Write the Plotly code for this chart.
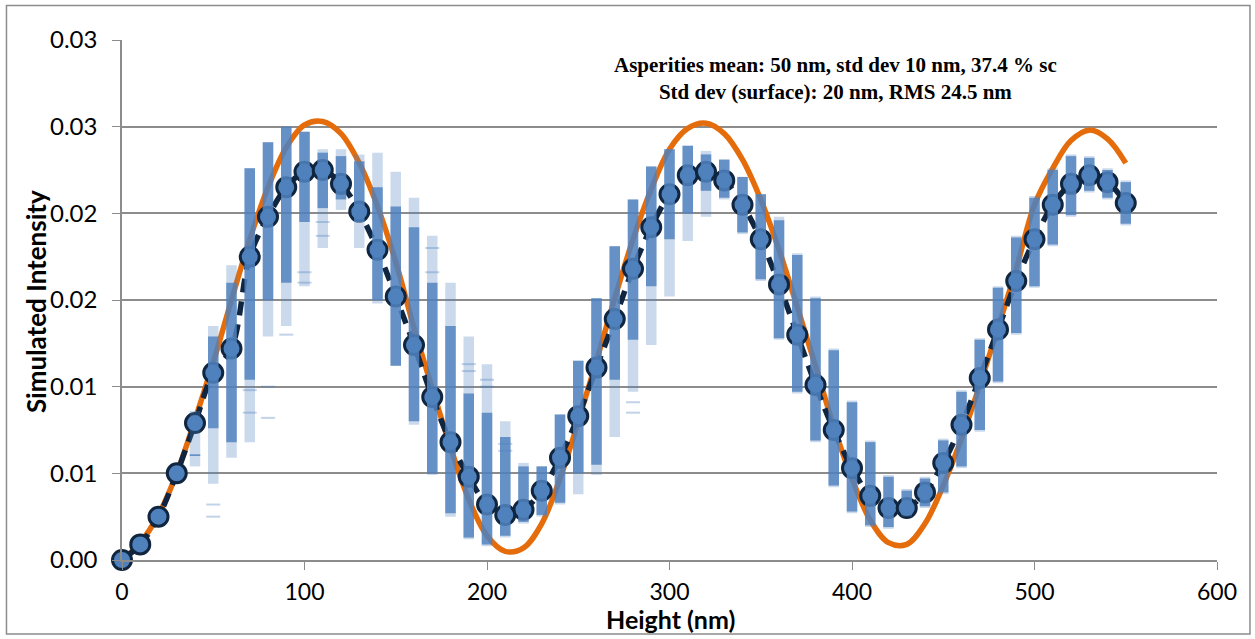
import plotly.graph_objects as go

# ---------------- data ----------------
heights = list(range(0, 560, 10))

mean_intensity = [
    0.0000, 0.0009, 0.0025, 0.0050, 0.0079, 0.0108, 0.0122, 0.0175, 0.0198, 0.0215,
    0.0224, 0.0225, 0.0217, 0.0201, 0.0179, 0.0152, 0.0124, 0.0094, 0.0068, 0.0048,
    0.0032, 0.0026, 0.0029, 0.0040, 0.0059, 0.0083, 0.0111, 0.0139, 0.0168, 0.0192,
    0.0211, 0.0222, 0.0224, 0.0219, 0.0205, 0.0185, 0.0159, 0.0130, 0.0101, 0.0075,
    0.0053, 0.0037, 0.0030, 0.0030, 0.0039, 0.0056, 0.0078, 0.0105, 0.0133, 0.0161,
    0.0185, 0.0205, 0.0217, 0.0222, 0.0218, 0.0206,
]

model_intensity = [
    0.0000, 0.0010, 0.0026, 0.0050, 0.0081, 0.0114, 0.0150, 0.0185, 0.0215, 0.0238,
    0.0251, 0.0253, 0.0246, 0.0229, 0.0204, 0.0172, 0.0134, 0.0099, 0.0065, 0.0035,
    0.0014, 0.0005, 0.0007, 0.0021, 0.0047, 0.0080, 0.0115, 0.0151, 0.0185, 0.0214,
    0.0237, 0.0249, 0.0252, 0.0246, 0.0231, 0.0208, 0.0179, 0.0146, 0.0112, 0.0077,
    0.0047, 0.0023, 0.0010, 0.0009, 0.0021, 0.0043, 0.0070, 0.0101, 0.0134, 0.0168,
    0.0205, 0.0226, 0.0242, 0.0248, 0.0243, 0.0229,
]

# spread of the individual simulations (from 40 nm on)
spread_heights = list(range(40, 560, 10))
core_low = [
    0.0060, 0.0076, 0.0068, 0.0104, 0.0150, 0.0160, 0.0195, 0.0203, 0.0208, 0.0195,
    0.0150, 0.0112, 0.0080, 0.0050, 0.0027, 0.0013, 0.0009, 0.0014, 0.0022, 0.0026,
    0.0033, 0.0050, 0.0055, 0.0104, 0.0127, 0.0158, 0.0185, 0.0200, 0.0213, 0.0209,
    0.0189, 0.0162, 0.0128, 0.0097, 0.0069, 0.0043, 0.0028, 0.0020, 0.0019, 0.0026,
    0.0031, 0.0039, 0.0054, 0.0075, 0.0103, 0.0131, 0.0158, 0.0182, 0.0199, 0.0213,
    0.0209, 0.0194,
]
core_high = [
    0.0061, 0.0129, 0.0160, 0.0226, 0.0241, 0.0250, 0.0247, 0.0235, 0.0233, 0.0230,
    0.0215, 0.0204, 0.0192, 0.0160, 0.0135, 0.0096, 0.0085, 0.0071, 0.0054, 0.0054,
    0.0084, 0.0115, 0.0151, 0.0181, 0.0208, 0.0227, 0.0237, 0.0239, 0.0234, 0.0231,
    0.0221, 0.0211, 0.0196, 0.0176, 0.0151, 0.0121, 0.0091, 0.0068, 0.0048, 0.0040,
    0.0047, 0.0069, 0.0097, 0.0127, 0.0157, 0.0186, 0.0209, 0.0225, 0.0233, 0.0232,
    0.0225, 0.0218,
]
spread_low = [
    0.0054, 0.0044, 0.0059, 0.0068, 0.0129, 0.0135, 0.0158, 0.0180, 0.0202, 0.0180,
    0.0148, 0.0112, 0.0078, 0.0049, 0.0025, 0.0012, 0.0008, 0.0013, 0.0021, 0.0025,
    0.0032, 0.0038, 0.0049, 0.0071, 0.0097, 0.0124, 0.0152, 0.0184, 0.0198, 0.0208,
    0.0188, 0.0161, 0.0127, 0.0096, 0.0068, 0.0042, 0.0027, 0.0019, 0.0018, 0.0025,
    0.0030, 0.0038, 0.0053, 0.0074, 0.0102, 0.0130, 0.0157, 0.0181, 0.0198, 0.0212,
    0.0208, 0.0193,
]
spread_high = [
    0.0086, 0.0135, 0.0170, 0.0226, 0.0241, 0.0250, 0.0247, 0.0237, 0.0237, 0.0234,
    0.0235, 0.0224, 0.0209, 0.0187, 0.0160, 0.0129, 0.0113, 0.0080, 0.0056, 0.0054,
    0.0084, 0.0115, 0.0151, 0.0181, 0.0208, 0.0227, 0.0237, 0.0239, 0.0236, 0.0231,
    0.0221, 0.0211, 0.0198, 0.0177, 0.0152, 0.0122, 0.0092, 0.0069, 0.0049, 0.0041,
    0.0048, 0.0070, 0.0098, 0.0128, 0.0158, 0.0187, 0.0210, 0.0226, 0.0234, 0.0233,
    0.0226, 0.0219,
]

# isolated simulation results outside the dense spread
outlier_heights = [50, 50, 70, 70, 80, 80, 90, 100, 100, 110, 110, 170, 170, 190, 190, 200, 200, 210, 210, 280, 280]
outlier_values = [0.0032, 0.0025, 0.0085, 0.0098, 0.0100, 0.0082, 0.0130, 0.0166, 0.0160, 0.0187, 0.0195,
                  0.0166, 0.0180, 0.0113, 0.0109, 0.0104, 0.0100, 0.0067, 0.0063, 0.0091, 0.0085]

y_ticks = [0, 0.005, 0.010, 0.015, 0.020, 0.025, 0.030]
y_tick_labels = ["0.00", "0.01", "0.01", "0.02", "0.02", "0.03", "0.03"]
x_ticks = [0, 100, 200, 300, 400, 500, 600]

title_lines = ["Asperities mean: 50 nm, std dev 10 nm, 37.4 % sc",
               "Std dev (surface): 20 nm, RMS 24.5 nm"]
x_title = "Height (nm)"
y_title = "Simulated Intensity"

# ---------------- figure ----------------
BLUE = "79,129,189"
NAVY = "#10253F"
ORANGE = "#E46C0A"
GRID = "#8C8C8C"
FONT = "Lato, Calibri, Carlito, sans-serif"


def segments(xs, lo, hi):
    sx, sy = [], []
    for x, a, b in zip(xs, lo, hi):
        sx += [x, x, None]
        sy += [a, b, None]
    return sx, sy


fig = go.Figure()

fig.add_trace(go.Scatter(
    x=heights, y=model_intensity, mode="lines",
    line=dict(color=ORANGE, width=5.5, shape="spline"),
    hoverinfo="skip", showlegend=False))

fig.add_trace(go.Scatter(
    x=heights, y=mean_intensity, mode="lines+markers", cliponaxis=False,
    line=dict(color=NAVY, width=5.5, dash="14px,9px", shape="spline"),
    marker=dict(size=19, color=f"rgb({BLUE})", line=dict(color=NAVY, width=3)),
    showlegend=False))

sx, sy = segments(spread_heights, spread_low, spread_high)
fig.add_trace(go.Scatter(
    x=sx, y=sy, mode="lines", line=dict(color=f"rgba({BLUE},0.30)", width=10.5),
    hoverinfo="skip", showlegend=False))

cx, cy = segments(spread_heights, core_low, core_high)
fig.add_trace(go.Scatter(
    x=cx, y=cy, mode="lines", line=dict(color=f"rgba({BLUE},0.82)", width=10.5),
    hoverinfo="skip", showlegend=False))

fig.add_trace(go.Scatter(
    x=outlier_heights, y=outlier_values, mode="markers",
    marker=dict(symbol="line-ew", size=10, line=dict(color=f"rgba({BLUE},0.35)", width=2)),
    hoverinfo="skip", showlegend=False))

fig.add_annotation(
    xref="paper", yref="paper", x=0.652, y=0.925, xanchor="center", yanchor="middle",
    text="<b>" + title_lines[0] + "</b><br><b>" + title_lines[1] + "</b>",
    showarrow=False, align="center",
    font=dict(family="Liberation Serif, Times New Roman, serif", size=21, color="black"))

fig.add_annotation(
    xref="paper", yref="paper", x=0.5005, y=-0.1125, xanchor="center", yanchor="middle",
    text="<b>" + x_title + "</b>", showarrow=False,
    font=dict(family=FONT, size=25, color="black"))

fig.add_annotation(
    xref="paper", yref="paper", x=-0.0785, y=0.496, xanchor="center", yanchor="middle",
    text="<b>" + y_title + "</b>", showarrow=False, textangle=-90,
    font=dict(family=FONT, size=26, color="black"))

fig.add_shape(type="rect", xref="paper", yref="paper",
              x0=-0.1055, x1=1.0301, y0=-0.1423, y1=1.0663,
              line=dict(color=GRID, width=1.5), layer="below")

fig.update_layout(
    width=1255, height=639,
    margin=dict(l=122, r=38, t=40, b=79),
    paper_bgcolor="white", plot_bgcolor="white",
    font=dict(family=FONT, color="black"),
    showlegend=False,
)

fig.update_xaxes(
    range=[0, 600], tickvals=x_ticks, ticks="outside", ticklen=8, tickcolor=GRID,
    tickfont=dict(size=23), ticklabelstandoff=3, showgrid=False, zeroline=False,
    showline=True, linecolor=GRID, linewidth=1.5, automargin=False)

fig.update_yaxes(
    range=[0, 0.030], tickvals=y_ticks, ticktext=y_tick_labels, ticks="outside",
    ticklen=8, tickcolor=GRID, tickfont=dict(size=24), ticklabelstandoff=10,
    showgrid=True, gridcolor=GRID, gridwidth=1.5, zeroline=False,
    showline=True, linecolor=GRID, linewidth=1.5, automargin=False)

fig.write_html("out.html", config={"displayModeBar": False},
               post_script="document.body.style.margin='0';")
